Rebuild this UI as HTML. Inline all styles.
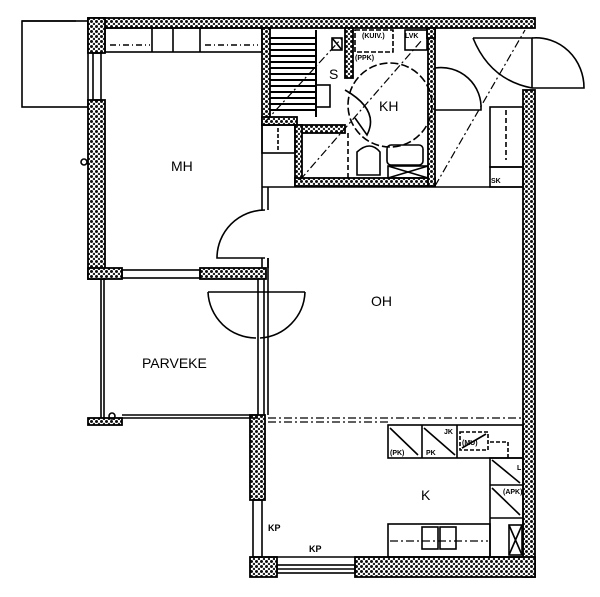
<!DOCTYPE html>
<html><head><style>body{margin:0;background:#fff}svg{display:block}text{font-family:"Liberation Sans",sans-serif;fill:#000}</style></head><body>
<svg width="600" height="597" viewBox="0 0 600 597" xmlns="http://www.w3.org/2000/svg">
<defs>
<pattern id="h" width="5" height="5" patternUnits="userSpaceOnUse">
<rect width="5" height="5" fill="#fff"/><circle cx="1.5" cy="1.5" r="1.5" fill="#111"/><circle cx="4" cy="4" r="1.2" fill="#222"/></pattern>
</defs>
<g stroke="#000" stroke-width="1.6" fill="none">
<rect x="22" y="21" width="66" height="86"/>
<line x1="22" y1="21" x2="76" y2="21"/>
<g fill="url(#h)" stroke-width="1.8">
<rect x="88" y="18" width="447" height="10"/>
<rect x="88" y="18" width="17" height="35"/>
<rect x="88" y="100" width="17" height="179"/>
<rect x="88" y="268" width="34" height="11"/>
<rect x="200" y="268" width="66" height="11"/>
<rect x="523" y="90" width="12" height="487"/>
<rect x="355" y="557" width="180" height="20"/>
<rect x="250" y="557" width="27" height="20"/>
<rect x="250" y="415" width="15" height="85"/>
<rect x="88" y="418" width="34" height="7"/>
<rect x="262" y="28" width="8" height="97"/>
<rect x="262" y="117" width="35" height="8"/>
<rect x="295" y="125" width="50" height="8"/>
<rect x="295" y="125" width="7" height="60"/>
<rect x="295" y="178" width="140" height="8"/>
<rect x="345" y="28" width="8" height="50"/>
<rect x="428" y="28" width="7" height="158"/>
<rect x="427" y="28" width="8" height="10"/>
</g>
<rect x="93" y="53" width="8" height="47"/>
<rect x="122" y="270" width="78" height="8"/>
<rect x="253" y="500" width="9" height="57"/>
<rect x="277" y="565" width="78" height="8"/>
<line x1="277" y1="569" x2="355" y2="569"/>
<rect x="105" y="28" width="157" height="24"/>
<line x1="152" y1="28" x2="152" y2="52"/><line x1="173" y1="28" x2="173" y2="52"/><line x1="200" y1="28" x2="200" y2="52"/>
<line x1="110" y1="45" x2="150" y2="45" stroke-dasharray="6,3,1,3"/><line x1="205" y1="45" x2="258" y2="45" stroke-dasharray="6,3,1,3"/>
<line x1="262" y1="125" x2="262" y2="210"/><line x1="268" y1="187" x2="268" y2="210"/>
<line x1="262" y1="187" x2="523" y2="187"/>
<rect x="262" y="125" width="33" height="28"/>
<line x1="278" y1="128" x2="278" y2="150" stroke-dasharray="4,2"/>
<line x1="262" y1="258" x2="262" y2="268"/><line x1="268" y1="258" x2="268" y2="268"/>
<path d="M265 210 A48 48 0 0 0 217 258 L265 258"/>
<line x1="258" y1="279" x2="258" y2="415"/><line x1="264" y1="279" x2="264" y2="415"/><line x1="268" y1="258" x2="268" y2="415"/>
<line x1="101" y1="279" x2="101" y2="418"/><line x1="104" y1="279" x2="104" y2="418"/>
<line x1="122" y1="418" x2="258" y2="418"/><line x1="122" y1="415" x2="258" y2="415"/>
<path d="M208 292 A48 48 0 0 0 256 338"/><path d="M305 292 A48 48 0 0 1 260 338"/>
<line x1="208" y1="292" x2="305" y2="292"/>
<circle cx="84" cy="162" r="3"/><circle cx="112" cy="416" r="3"/>
<g stroke-width="2">
<line x1="270" y1="38" x2="316" y2="38"/><line x1="270" y1="44" x2="316" y2="44"/><line x1="270" y1="50" x2="316" y2="50"/><line x1="270" y1="56" x2="316" y2="56"/><line x1="270" y1="62" x2="316" y2="62"/><line x1="270" y1="68" x2="316" y2="68"/><line x1="270" y1="74" x2="316" y2="74"/><line x1="270" y1="80" x2="316" y2="80"/><line x1="270" y1="86" x2="316" y2="86"/><line x1="270" y1="92" x2="316" y2="92"/><line x1="270" y1="98" x2="316" y2="98"/><line x1="270" y1="104" x2="316" y2="104"/><line x1="270" y1="110" x2="316" y2="110"/>
<line x1="316" y1="30" x2="316" y2="117"/>
</g>
<rect x="316" y="85" width="14" height="22"/>
<rect x="332" y="38" width="10" height="12"/><line x1="332" y1="38" x2="342" y2="50"/>
<rect x="355" y="30" width="38" height="22" stroke-dasharray="5,2"/>
<rect x="405" y="30" width="22" height="20"/>
<circle cx="390" cy="105" r="42" stroke-dasharray="8,3"/>
<path d="M345 90 Q380 110 367 135 L355 118"/>
<path d="M357 152 Q370 140 380 152 L380 175 L357 175 Z"/>
<rect x="387" y="145" width="36" height="20" rx="4"/>
<rect x="388" y="166" width="40" height="12"/><line x1="388" y1="166" x2="428" y2="178"/><line x1="428" y1="166" x2="388" y2="178"/>
<line x1="348" y1="133" x2="348" y2="178" stroke-dasharray="5,3"/>
<path d="M435 68 A40 40 0 0 1 481 110 L435 110"/>
<path d="M473 38 L532 38 L532 88"/>
<path d="M473 38 Q490 80 532 88 M532 38 A48 50 0 0 1 584 88 L532 88"/>
<rect x="490" y="107" width="33" height="60"/><rect x="490" y="167" width="33" height="20"/>
<line x1="506" y1="110" x2="506" y2="160" stroke-dasharray="5,3"/>
<g stroke-dasharray="8,3,2,3" stroke-width="1.2">
<line x1="265" y1="122" x2="342" y2="38"/><line x1="300" y1="180" x2="422" y2="40"/><line x1="435" y1="186" x2="525" y2="30"/>
<line x1="268" y1="418" x2="523" y2="418"/><line x1="268" y1="422" x2="388" y2="422"/>
</g>
<rect x="388" y="425" width="135" height="33"/>
<line x1="422" y1="425" x2="422" y2="458"/><line x1="457" y1="425" x2="457" y2="458"/>
<line x1="390" y1="428" x2="418" y2="455"/><line x1="424" y1="428" x2="455" y2="455"/>
<rect x="460" y="432" width="28" height="18" stroke-dasharray="4,2"/><line x1="462" y1="448" x2="486" y2="434"/>
<line x1="490" y1="442" x2="508" y2="442" stroke-dasharray="4,2"/><line x1="508" y1="442" x2="508" y2="458" stroke-dasharray="4,2"/>
<rect x="490" y="458" width="33" height="99"/>
<line x1="490" y1="485" x2="523" y2="485"/><line x1="490" y1="518" x2="523" y2="518"/>
<line x1="492" y1="460" x2="520" y2="483"/><line x1="492" y1="488" x2="520" y2="515"/>
<rect x="509" y="525" width="13" height="30"/><line x1="509" y1="525" x2="522" y2="555"/><line x1="522" y1="525" x2="509" y2="555"/>
<rect x="388" y="524" width="102" height="33"/>
<rect x="422" y="527" width="16" height="22"/><rect x="440" y="527" width="16" height="22"/>
<line x1="390" y1="541" x2="488" y2="541" stroke-dasharray="8,3,2,3" stroke-width="1.2"/>
<line x1="265" y1="557" x2="523" y2="557"/>
</g>
<g font-size="14">
<text x="171" y="171">MH</text><text x="371" y="306">OH</text><text x="142" y="368">PARVEKE</text>
<text x="421" y="500">K</text><text x="379" y="111">KH</text><text x="329" y="79">S</text>
</g>
<g font-size="7" font-weight="bold">
<text x="362" y="38">(KUIV.)</text><text x="355" y="60">(PPK)</text><text x="405" y="38">LVK</text>
<text x="491" y="183">SK</text><text x="390" y="455">(PK)</text><text x="426" y="455">PK</text><text x="444" y="434">JK</text>
<text x="462" y="445">(MU)</text><text x="517" y="470">L</text><text x="503" y="494">(APK)</text>
<text x="268" y="531" font-size="9">KP</text><text x="309" y="552" font-size="9">KP</text>
</g>
</svg>
</body></html>
